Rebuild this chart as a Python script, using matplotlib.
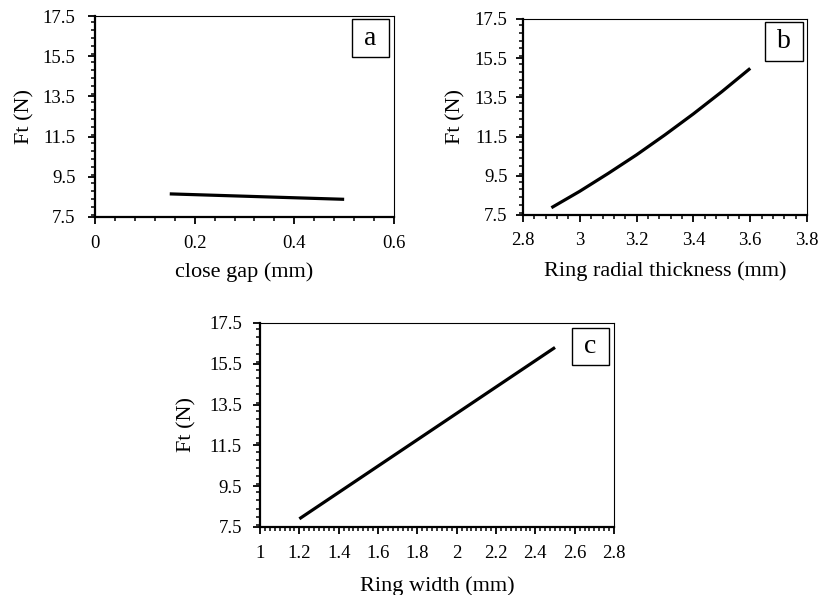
import numpy as np
import matplotlib
matplotlib.use('Agg')
import matplotlib.pyplot as plt
from matplotlib.ticker import MultipleLocator, FormatStrFormatter, FuncFormatter
from matplotlib.patches import Rectangle

plt.rcParams['font.family'] = ['Liberation Serif', 'DejaVu Serif']

# panel a: close gap
gap_x = [0.15, 0.5]
gap_y = [8.65, 8.38]

# panel b: ring radial thickness
thick_x = [2.9, 3.0, 3.1, 3.2, 3.3, 3.4, 3.5, 3.6]
thick_y = [7.87, 8.71, 9.62, 10.57, 11.59, 12.66, 13.79, 14.98]

# panel c: ring width
width_x = [1.2, 2.5]
width_y = [7.9, 16.3]

y_ticks = [7.5, 9.5, 11.5, 13.5, 15.5, 17.5]

fig = plt.figure(figsize=(8.21, 5.95), dpi=100)

def fmt(v, pos):
    return '%g' % round(v, 3)

def setup(ax, xlim, xminor, xlabel, letter, box, ypad, ylabpad, xpad, xlabpad):
    ax.set_xlim(*xlim)
    ax.set_ylim(7.5, 17.5)
    ax.set_yticks(y_ticks)
    ax.yaxis.set_major_formatter(FormatStrFormatter('%.1f'))
    ax.yaxis.set_minor_locator(MultipleLocator(0.4))
    ax.xaxis.set_major_locator(MultipleLocator(0.2))
    ax.xaxis.set_minor_locator(MultipleLocator(xminor))
    ax.xaxis.set_major_formatter(FuncFormatter(fmt))
    ax.tick_params(which='major', direction='out', length=5, width=1.3, labelsize=13.5)
    ax.tick_params(which='minor', direction='out', length=3, width=1.1)
    ax.tick_params(axis='y', which='major', pad=ypad)
    ax.tick_params(axis='x', which='major', pad=xpad)
    ax.spines['left'].set_linewidth(1.6)
    ax.spines['bottom'].set_linewidth(1.6)
    ax.spines['top'].set_linewidth(0.8)
    ax.spines['right'].set_linewidth(0.8)
    ax.set_xlabel(xlabel, fontsize=16, labelpad=xlabpad)
    ax.set_ylabel('Ft (N)', fontsize=16, labelpad=ylabpad)
    x0, x1, y0, y1 = box
    ax.add_patch(Rectangle((x0, y0), x1 - x0, y1 - y0, transform=ax.transAxes,
                           facecolor='white', edgecolor='black', lw=1.0, zorder=5))
    ax.text((x0 + x1) / 2, (y0 + y1) / 2, letter, transform=ax.transAxes,
            ha='center', va='center', fontsize=20, zorder=6)

ax1 = fig.add_axes([0.1157, 0.6353, 0.3642, 0.3378])
ax1.plot(gap_x, gap_y, color='black', lw=2.3, solid_capstyle='butt')
setup(ax1, (0, 0.6), 0.04, 'close gap (mm)', 'a', (0.860, 0.983, 0.796, 0.985),
      9, 6, 8, 7)

ax2 = fig.add_axes([0.637, 0.6387, 0.346, 0.3294])
ax2.plot(thick_x, thick_y, color='black', lw=2.3, solid_capstyle='butt')
setup(ax2, (2.8, 3.8), 0.04, 'Ring radial thickness (mm)', 'b', (0.852, 0.986, 0.786, 0.985),
      6, 7, 7, 9)

ax3 = fig.add_axes([0.3167, 0.1143, 0.4312, 0.3429])
ax3.plot(width_x, width_y, color='black', lw=2.3, solid_capstyle='butt')
setup(ax3, (1, 2.8), 0.025, 'Ring width (mm)', 'c', (0.881, 0.986, 0.794, 0.975),
      8, 9, 8, 10)

fig.savefig('out.png', dpi=100)
